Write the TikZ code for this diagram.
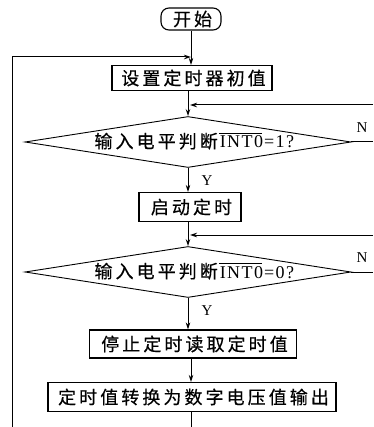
\documentclass[tikz,border=0pt]{standalone}
\usepackage{fontspec}
\usetikzlibrary{shapes.geometric,arrows.meta}
\newfontfamily\cjk[LetterSpace=17,FakeBold=0.5]{Noto Sans CJK SC}
\newfontfamily\latn[LetterSpace=8]{Liberation Serif}
\newfontfamily\lbl{Liberation Serif}
\newcommand\cjktext[1]{#1\kern-3pt}
\begin{document}
\begin{tikzpicture}[x=1pt,y=-1pt,
  line width=1pt,
  every node/.style={inner sep=0pt},
  proc/.style={draw,line width=1.2pt,font=\fontsize{18}{20}\cjk},
  dec/.style={draw,diamond,line width=0.9pt,aspect=6.4,minimum width=326pt,minimum height=51pt},
  ctext/.style={font=\fontsize{18}{20}\cjk},
  ltext/.style={font=\fontsize{18}{20}\latn},
  arr/.style={-{Stealth[length=7pt,width=4.5pt]}},
  yn/.style={font=\fontsize{15}{17}\lbl}]
\useasboundingbox (0,0) rectangle (373,427);
\node[draw,rounded corners=8pt,line width=1.1pt,minimum width=60pt,minimum height=22pt,font=\fontsize{18}{20}\cjk] (start) at (191,19) {\cjktext{开始}};
\node[proc,minimum width=160pt,minimum height=25pt] (b1) at (192,78) {\cjktext{设置定时器初值}};
\node[dec] (d1) at (188,142) {};
\node[ctext,anchor=base west] (t1a) at (94,148) {\cjktext{输入电平判断}};
\node[ltext,anchor=base west] (t1b) at ([xshift=4pt]t1a.base east) {INT0};
\node[ltext,anchor=base west] (t1c) at (t1b.base east) {=1?};
\draw[line width=0.9pt] ([yshift=2pt]t1b.north west) -- ([yshift=2pt,xshift=-1.4pt]t1b.north east);
\node[proc,minimum width=102pt,minimum height=29pt] (b2) at (190,207) {\cjktext{启动定时}};
\node[dec] (d2) at (188,272) {};
\node[ctext,anchor=base west] (t2a) at (94,278) {\cjktext{输入电平判断}};
\node[ltext,anchor=base west] (t2b) at ([xshift=4pt]t2a.base east) {INT0};
\node[ltext,anchor=base west] (t2c) at (t2b.base east) {=0?};
\draw[line width=0.9pt] ([yshift=2pt]t2b.north west) -- ([yshift=2pt,xshift=-1.4pt]t2b.north east);
\node[proc,minimum width=207pt,minimum height=28pt] (b3) at (193,344) {\cjktext{停止定时读取定时值}};
\node[proc,minimum width=288pt,minimum height=29pt] (b4) at (192,397) {\cjktext{定时值转换为数字电压值输出}};
% merge points and free ends
\coordinate (m1) at (191,57);
\coordinate (m2) at (190,105);
\coordinate (m3) at (190,235);
\coordinate (bl) at (12,427);
\coordinate (bm) at (191,427);
\coordinate (r1a) at (373,142);
\coordinate (r1b) at (373,105);
\coordinate (r2a) at (373,272);
\coordinate (r2b) at (373,235);
% main flow
\draw[arr] (start.south) -- (start.south |- b1.north);
\draw[arr] (b1.south -| d1.north) -- (d1.north);
\draw[arr] (d1.south) -- (d1.south |- b2.north);
\draw[arr] (b2.south -| d2.north) -- (d2.north);
\draw[arr] (d2.south) -- (d2.south |- b3.north);
\draw[arr] (b3.south -| bm) -- (b4.north -| bm);
\draw (b4.south -| bm) -- (bm);
% outer loop on the left
\draw[arr] (bl) -- (bl |- m1) -- (m1);
% N branches
\draw (d1.east) -- (r1a);
\draw[arr] (r1b) -- (m2);
\draw (d2.east) -- (r2a);
\draw[arr] (r2b) -- (m3);
% labels
\node[yn] (y1) at (207,181) {Y};
\node[yn] (y2) at (207,311) {Y};
\node[yn] (n1) at (362,128) {N};
\node[yn] (n2) at (362,258) {N};
\end{tikzpicture}
\end{document}
